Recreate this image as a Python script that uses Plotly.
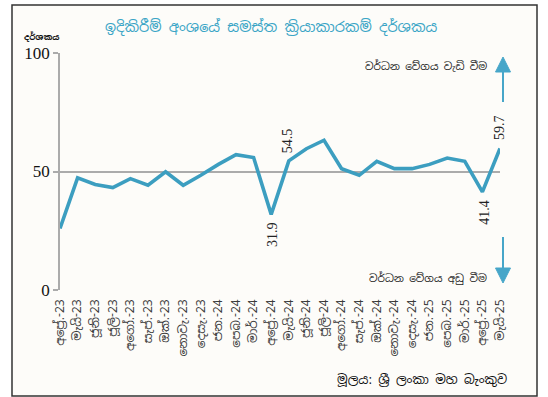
import plotly.graph_objects as go

months = ["අප්‍රේ.-23", "මැයි-23", "ජූනි-23", "ජූලි-23", "අගෝ.-23", "සැප්.-23", "ඔක්.-23",
          "නොවැ.-23", "දෙසැ.-23", "ජන.-24", "පෙබ.-24", "මාර්.-24", "අප්‍රේ.-24", "මැයි-24",
          "ජූනි-24", "ජූලි-24", "අගෝ.-24", "සැප්.-24", "ඔක්.-24", "නොවැ.-24", "දෙසැ.-24",
          "ජන.-25", "පෙබ.-25", "මාර්.-25", "අප්‍රේ.-25", "මැයි-25"]
values = [26.0, 47.3, 44.5, 43.2, 47.0, 44.2, 49.9, 44.2, 48.4, 53.0, 57.1, 55.9, 31.9, 54.5,
          59.6, 63.2, 51.2, 48.4, 54.3, 51.2, 51.2, 53.0, 55.7, 54.3, 41.4, 59.7]
label_idx_below = [12, 24]
label_idx_above = [13, 25]
y_ticks = [0, 50, 100]

title = "ඉදිකිරීම් අංශයේ සමස්ත ක්‍රියාකාරකම් දර්ශකය"
y_title = "දර්ශකය"
up_text = "වර්ධන වේගය වැඩි වීම"
down_text = "වර්ධන වේගය අඩු වීම"
source = "මූලය: ශ්‍රී ලංකා මහ බැංකුව"

W, H = 548, 397
L, R, T, B = 60, 48, 53, 107
PW, PH = W - L - R, H - T - B

def px(x):
    return (x - L) / PW

def py(y):
    return (H - B - y) / PH

LINE = "#3C9EC0"
ARROW = "#47A6C9"
SERIF = "Liberation Serif, Times New Roman, serif"
SANS = "Noto Sans Sinhala, Noto Serif Sinhala, Noto Sans, sans-serif"

fig = go.Figure()
fig.add_trace(go.Scatter(x=months, y=values, mode="lines",
                         line=dict(color=LINE, width=3.6), hoverinfo="skip"))

annotations = []
for i in label_idx_below:
    annotations.append(dict(x=months[i], y=values[i], text=f"{values[i]:.1f}", textangle=-90,
                            showarrow=False, yanchor="top", yshift=-6, xshift=2,
                            font=dict(family=SERIF, size=14, color="#222")))
for i in label_idx_above:
    annotations.append(dict(x=months[i], y=values[i], text=f"{values[i]:.1f}", textangle=-90,
                            showarrow=False, yanchor="bottom", yshift=6, xshift=-1,
                            font=dict(family=SERIF, size=14, color="#222")))

annotations += [
    dict(xref="paper", yref="paper", x=px(271), y=py(26), text=title, showarrow=False,
         xanchor="center", yanchor="middle",
         font=dict(family=SANS, size=14.5, color="#3AA5C6")),
    dict(xref="paper", yref="paper", x=px(22), y=py(37), text=f"<b>{y_title}</b>", showarrow=False,
         xanchor="left", yanchor="middle", font=dict(family=SANS, size=8.5, color="#111")),
    dict(xref="paper", yref="paper", x=px(489), y=py(66), text=up_text, showarrow=False,
         xanchor="right", yanchor="middle", font=dict(family=SANS, size=10.5, color="#222")),
    dict(xref="paper", yref="paper", x=px(489), y=py(278), text=down_text, showarrow=False,
         xanchor="right", yanchor="middle", font=dict(family=SANS, size=10.5, color="#222")),
    dict(xref="paper", yref="paper", x=px(509), y=py(379), text=source, showarrow=False,
         xanchor="right", yanchor="middle", font=dict(family=SANS, size=12.5, color="#111")),
]

shapes = [
    dict(type="rect", xref="paper", yref="paper", x0=px(12), x1=px(537), y0=py(5), y1=py(396),
         line=dict(color="#333", width=1.5), fillcolor="#FDFCF9", layer="below"),
    # up arrow
    dict(type="line", xref="paper", yref="paper", x0=px(503), x1=px(503), y0=py(70), y1=py(102),
         line=dict(color=ARROW, width=2)),
    dict(type="path", xref="paper", yref="paper",
         path=f"M {px(495.5)},{py(72)} L {px(510.5)},{py(72)} L {px(503)},{py(57)} Z",
         fillcolor=ARROW, line=dict(color=ARROW, width=1)),
    # down arrow
    dict(type="line", xref="paper", yref="paper", x0=px(503), x1=px(503), y0=py(237), y1=py(270),
         line=dict(color=ARROW, width=2)),
    dict(type="path", xref="paper", yref="paper",
         path=f"M {px(495.5)},{py(268)} L {px(510.5)},{py(268)} L {px(503)},{py(283)} Z",
         fillcolor=ARROW, line=dict(color=ARROW, width=1)),
]

fig.update_layout(
    width=W, height=H, autosize=False,
    margin=dict(l=L, r=R, t=T, b=B, pad=0),
    paper_bgcolor="white", plot_bgcolor="#FDFCF9",
    showlegend=False,
    annotations=annotations, shapes=shapes,
    xaxis=dict(type="category", range=[0, len(months) - 1], tickangle=-90,
               showgrid=False, showline=False, ticks="", zeroline=False,
               tickfont=dict(family=SANS, size=12, color="#3a3a3a"), ticklabelstandoff=6),
    yaxis=dict(range=[0, 100], tickvals=y_ticks, showgrid=True, gridcolor="#ABABAB", gridwidth=1.5,
               showline=True, linecolor="#ABABAB", linewidth=1.5, ticks="outside", ticklen=5,
               tickcolor="#ABABAB", tickwidth=1.5, zeroline=False,
               tickfont=dict(family=SERIF, size=17, color="#111")),
)

fig.write_html("out.html", config={"displayModeBar": False},
               post_script="document.body.style.margin='0';document.body.style.overflow='hidden';")
